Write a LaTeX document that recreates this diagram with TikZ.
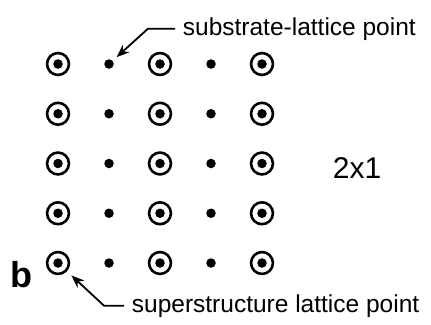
\documentclass[tikz,border=0pt]{standalone}
\usepackage{fontspec}
\setmainfont{Liberation Sans}
\usetikzlibrary{arrows.meta}

\begin{document}
\begin{tikzpicture}[x=1pt, y=-1pt, >={Stealth[length=13pt,width=10pt]}, line width=1.8pt,
  ring/.style={circle, draw, line width=2.6pt, minimum size=21.9pt, inner sep=0pt},
  dot/.style={circle, fill, minimum size=9.5pt, inner sep=0pt},
  lbl/.style={anchor=base west, inner ysep=0pt, inner xsep=7pt, font=\fontsize{24.5pt}{29pt}\selectfont}]
  \useasboundingbox (0,0) rectangle (431,324);
  % substrate points
  \foreach \i in {0,...,4} {
    \foreach \j in {0,...,4} {
      \node[dot] (d-\i-\j) at (58+51*\i, 64+49.75*\j) {};
    }
  }
  % superstructure rings
  \foreach \i in {0,2,4} {
    \foreach \j in {0,...,4} {
      \node[dot, minimum size=8.5pt] at (d-\i-\j) {};
      \node[ring] (r-\i-\j) at (d-\i-\j) {};
    }
  }
  % labels
  \node[lbl] (sub) at (175,35) {substrate-lattice point};
  \node[lbl] (sup) at (124,312) {superstructure lattice point};
  \node[lbl, font=\fontsize{30pt}{36pt}\selectfont] (ratio) at (325,178) {2x1};
  \node[lbl, font=\bfseries\fontsize{36pt}{43pt}\selectfont] (panel) at (3,287) {b};
  % pointers
  \draw[->, shorten >=4.5pt] (sub.west) -- ++(-27,0) -- (d-1-0);
  \draw[->, shorten >=6pt] (sup.west) -- ++(-20,0) -- (r-0-4);
\end{tikzpicture}
\end{document}
